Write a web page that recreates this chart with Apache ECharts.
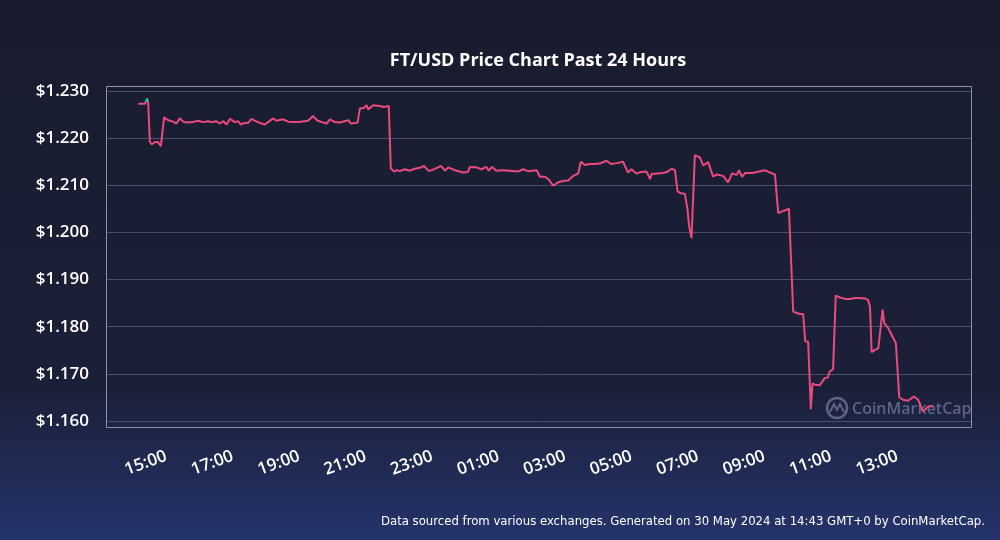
<!DOCTYPE html>
<html>
<head>
<meta charset="utf-8">
<script src="https://cdn.jsdelivr.net/npm/echarts@6/dist/echarts.min.js"></script>
<style>
  html, body { margin: 0; padding: 0; background: #191c2e; }
  #chart { width: 1000px; height: 540px; }
</style>
</head>
<body>
<div id="chart"></div>
<script>
// hours since 29 May 2024 00:00 (GMT+0)
const hours = [
  14.77, 14.97, 15.04, 15.07, 15.12, 15.18, 15.29, 15.36, 15.45, 15.55,
  15.67, 15.82, 15.92, 16.02, 16.14, 16.27, 16.41, 16.57, 16.72, 16.87,
  16.98, 17.11, 17.23, 17.33, 17.43, 17.53, 17.68, 17.77, 17.86, 17.95,
  18.07, 18.18, 18.30, 18.48, 18.58, 18.64, 18.83, 18.93, 19.13, 19.28,
  19.48, 19.66, 19.88, 20.03, 20.17, 20.30, 20.44, 20.54, 20.69, 20.84,
  21.09, 21.17, 21.29, 21.37, 21.44, 21.56, 21.64, 21.69, 21.84, 22.04,
  22.16, 22.21, 22.31, 22.37, 22.47, 22.55, 22.64, 22.79, 22.94, 23.09,
  23.25, 23.37, 23.50, 23.61, 23.76, 23.88, 24.00, 24.10, 24.30, 24.55,
  24.69, 24.75, 24.95, 25.10, 25.25, 25.32, 25.42, 25.55, 25.74, 25.95,
  26.20, 26.35, 26.50, 26.76, 26.86, 27.01, 27.11, 27.26, 27.39, 27.55,
  27.71, 27.86, 28.01, 28.09, 28.21, 28.36, 28.51, 28.66, 28.86, 29.01,
  29.17, 29.36, 29.51, 29.61, 29.76, 29.89, 30.07, 30.17, 30.22, 30.38,
  30.56, 30.68, 30.82, 30.92, 31.00, 31.10, 31.22, 31.30, 31.35, 31.42,
  31.52, 31.67, 31.77, 31.92, 32.07, 32.17, 32.37, 32.52, 32.64, 32.78,
  32.85, 32.94, 33.03, 33.24, 33.38, 33.63, 33.78, 33.93, 34.03, 34.13,
  34.28, 34.35, 34.48, 34.59, 34.68, 34.74, 34.78, 34.84, 34.93, 35.01,
  35.06, 35.13, 35.28, 35.43, 35.52, 35.58, 35.68, 35.76, 35.89, 36.04,
  36.19, 36.34, 36.49, 36.64, 36.73, 36.79, 36.84, 36.94, 37.04, 37.17,
  37.22, 37.33, 37.49, 37.57, 37.67, 37.78, 37.94, 38.11, 38.24, 38.39,
  38.54, 38.64, 38.69
];

const prices = [
  1.2273, 1.2273, 1.2284, 1.2274, 1.2192, 1.2187, 1.2192, 1.2192, 1.2183, 1.2244,
  1.2238, 1.2235, 1.2231, 1.2242, 1.2234, 1.2233, 1.2234, 1.2237, 1.2234, 1.2236,
  1.2234, 1.2236, 1.2231, 1.2236, 1.2229, 1.2241, 1.2234, 1.2236, 1.2229, 1.2232,
  1.2232, 1.2241, 1.2236, 1.2231, 1.2229, 1.2230, 1.2242, 1.2237, 1.2240, 1.2235,
  1.2234, 1.2235, 1.2237, 1.2247, 1.2237, 1.2234, 1.2231, 1.2240, 1.2234, 1.2233,
  1.2238, 1.2231, 1.2232, 1.2233, 1.2263, 1.2264, 1.2270, 1.2261, 1.2270, 1.2268,
  1.2266, 1.2263, 1.2268, 1.2136, 1.2129, 1.2132, 1.2130, 1.2134, 1.2131, 1.2135,
  1.2137, 1.2141, 1.2131, 1.2132, 1.2137, 1.2141, 1.2131, 1.2138, 1.2132, 1.2127,
  1.2128, 1.2139, 1.2138, 1.2134, 1.2139, 1.2131, 1.2139, 1.2131, 1.2132, 1.2131,
  1.2129, 1.2134, 1.2130, 1.2132, 1.2118, 1.2118, 1.2113, 1.2099, 1.2106, 1.2109,
  1.2110, 1.2120, 1.2125, 1.2150, 1.2143, 1.2145, 1.2145, 1.2146, 1.2152, 1.2145,
  1.2147, 1.2150, 1.2127, 1.2134, 1.2125, 1.2128, 1.2129, 1.2113, 1.2124, 1.2125,
  1.2126, 1.2128, 1.2135, 1.2132, 1.2087, 1.2083, 1.2082, 1.2048, 1.2012, 1.1988,
  1.2164, 1.2159, 1.2142, 1.2149, 1.2118, 1.2123, 1.2120, 1.2106, 1.2125, 1.2122,
  1.2132, 1.2118, 1.2126, 1.2126, 1.2128, 1.2132, 1.2127, 1.2123, 1.2041, 1.2044,
  1.2048, 1.2051, 1.1832, 1.1829, 1.1827, 1.1829, 1.1827, 1.1769, 1.1768, 1.1625,
  1.1680, 1.1677, 1.1676, 1.1691, 1.1692, 1.1705, 1.1710, 1.1866, 1.1862, 1.1859,
  1.1859, 1.1861, 1.1861, 1.1860, 1.1857, 1.1843, 1.1746, 1.1751, 1.1754, 1.1836,
  1.1807, 1.1798, 1.1776, 1.1765, 1.1651, 1.1645, 1.1643, 1.1652, 1.1645, 1.1620,
  1.1631, 1.1632, 1.1631
];

const hourTicks = [15, 17, 19, 21, 23, 25, 27, 29, 31, 33, 35, 37];
// above this the line turns green
const baseline = 1.2276;

const chart = echarts.init(document.getElementById('chart'));

const fontFamily = '"Open Sans", Lato, sans-serif';

const option = {
  backgroundColor: {
    type: 'linear', x: 0, y: 0, x2: 0, y2: 1,
    colorStops: [
      { offset: 0, color: '#191c2e' },
      { offset: 0.72, color: '#1b2039' },
      { offset: 1, color: '#24336b' }
    ]
  },
  animation: false,
  grid: { left: 106, right: 29, top: 91, bottom: 119 },
  xAxis: {
    type: 'value',
    min: 13.8,
    max: 39.83,
    axisLine: { show: false },
    axisTick: { show: false },
    splitLine: { show: false },
    axisLabel: {
      customValues: hourTicks,
      rotate: 20,
      align: 'center',
      verticalAlign: 'middle',
      margin: 42,
      color: '#ffffff',
      fontSize: 17,
      fontWeight: 600,
      fontFamily: fontFamily,
      formatter: function (value) {
        const h = Math.round(value) % 24;
        return (h < 10 ? '0' : '') + h + ':00';
      }
    }
  },
  yAxis: {
    type: 'value',
    min: 1.16,
    max: 1.23,
    interval: 0.01,
    axisLine: { show: false },
    axisTick: { show: false },
    splitLine: { lineStyle: { color: '#4a4f68', width: 1 } },
    axisLabel: {
      margin: 17,
      color: '#ffffff',
      fontSize: 17,
      fontWeight: 600,
      fontFamily: fontFamily,
      formatter: function (value) {
        return '$' + value.toFixed(3);
      }
    }
  },
  visualMap: {
    show: false,
    type: 'piecewise',
    dimension: 1,
    seriesIndex: 0,
    pieces: [
      { gt: baseline, lte: 1.3, color: '#2fb59a' },
      { gte: 1.1, lte: baseline, color: '#ea4a7b' }
    ]
  },
  series: [
    {
      type: 'line',
      data: hours.map((h, i) => [h, prices[i]]),
      showSymbol: false,
      lineStyle: { width: 2 },
      z: 5
    }
  ],
  graphic: [
    {
      type: 'rect',
      shape: { x: 106.5, y: 86.5, width: 865, height: 341 },
      style: { fill: 'none', stroke: '#8d91a3', lineWidth: 1 },
      silent: true,
      z: 1
    },
    {
      type: 'text',
      x: 538,
      y: 61,
      style: {
        text: 'FT/USD Price Chart Past 24 Hours',
        fill: '#ffffff',
        font: 'bold 18px ' + fontFamily,
        textAlign: 'center',
        textVerticalAlign: 'middle'
      }
    },
    {
      type: 'circle',
      shape: { cx: 837, cy: 408, r: 10 },
      style: { fill: 'none', stroke: '#5d6380', lineWidth: 2.5 },
      z: 2
    },
    {
      type: 'polyline',
      shape: { points: [[830, 412], [834, 404], [837, 410], [840, 404], [844, 412]] },
      style: { fill: 'none', stroke: '#5d6380', lineWidth: 2 },
      z: 2
    },
    {
      type: 'text',
      x: 852,
      y: 409,
      style: {
        text: 'CoinMarketCap',
        fill: '#5d6380',
        font: '600 16px ' + fontFamily,
        textVerticalAlign: 'middle'
      },
      z: 2
    },
    {
      type: 'text',
      right: 15,
      bottom: 12,
      style: {
        text: 'Data sourced from various exchanges. Generated on 30 May 2024 at 14:43 GMT+0 by CoinMarketCap.',
        fill: '#ffffff',
        font: '13px "DejaVu Sans Condensed", "Liberation Sans Narrow", sans-serif'
      }
    }
  ]
};

chart.setOption(option);
</script>
</body>
</html>
